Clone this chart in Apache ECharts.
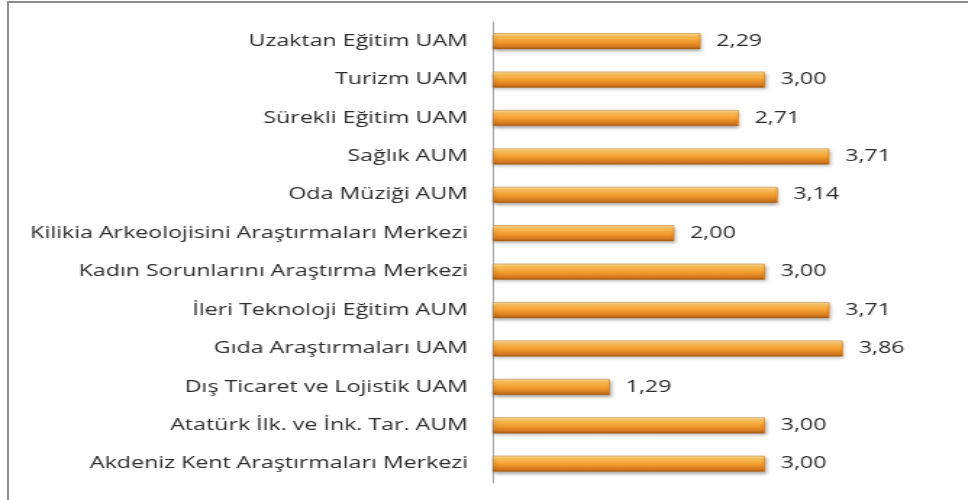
<!DOCTYPE html>
<html>
<head>
<meta charset="utf-8">
<script src="https://cdn.jsdelivr.net/npm/echarts@6/dist/echarts.min.js"></script>
<style>
  html, body { margin: 0; padding: 0; background: #fff; overflow: hidden; }
  /* the original picture is stretched horizontally (~1.45x) */
  #frame { position: absolute; left: 7px; top: 1px; width: 961px; height: 499px;
           border-left: 2px solid #8c8c8c; border-top: 2px solid #8c8c8c; }
  #chart { position: absolute; left: 0; top: 0; width: 668px; height: 500px;
           transform: scaleX(1.449); transform-origin: 0 0; }
</style>
</head>
<body>
<div id="frame"></div>
<div id="chart"></div>
<script>
// kategoriler (alttan üste)
let categories = [
  'Akdeniz Kent Araştırmaları Merkezi',
  'Atatürk İlk. ve İnk. Tar. AUM',
  'Dış Ticaret ve Lojistik UAM',
  'Gıda Araştırmaları UAM',
  'İleri Teknoloji Eğitim AUM',
  'Kadın Sorunlarını Araştırma Merkezi',
  'Kilikia Arkeolojisini Araştırmaları Merkezi',
  'Oda Müziği AUM',
  'Sağlık AUM',
  'Sürekli Eğitim UAM',
  'Turizm UAM',
  'Uzaktan Eğitim UAM'
];
let values = [3.00, 3.00, 1.29, 3.86, 3.71, 3.00, 2.00, 3.14, 3.71, 2.71, 3.00, 2.29];

let chart = echarts.init(document.getElementById('chart'));

let barColor = new echarts.graphic.LinearGradient(0, 0, 0, 1, [
  { offset: 0, color: '#fde3a8' },
  { offset: 0.2, color: '#fbbf55' },
  { offset: 0.55, color: '#f29a2c' },
  { offset: 0.85, color: '#d3781f' },
  { offset: 1, color: '#9c5514' }
]);

chart.setOption({
  animation: false,
  grid: { left: 340, right: 15, top: 22, bottom: 17 },
  xAxis: {
    type: 'value',
    min: 0,
    max: 5,
    show: false
  },
  yAxis: {
    type: 'category',
    data: categories,
    axisLine: { lineStyle: { color: '#a6a6a6' } },
    axisTick: { length: 6, lineStyle: { color: '#a6a6a6' } },
    axisLabel: {
      margin: 17,
      color: '#2b2b2b',
      fontFamily: 'Open Sans',
      fontSize: 16
    }
  },
  series: [{
    type: 'bar',
    data: values,
    barWidth: 16,
    itemStyle: {
      color: barColor,
      borderColor: '#b86a1c',
      borderWidth: 0.5,
      shadowColor: 'rgba(0,0,0,0.3)',
      shadowBlur: 3,
      shadowOffsetX: 1,
      shadowOffsetY: 2
    },
    label: {
      show: true,
      position: 'right',
      distance: 11,
      color: '#2b2b2b',
      fontFamily: 'Open Sans',
      fontSize: 16,
      formatter: function (p) { return p.value.toFixed(2).replace('.', ','); }
    }
  }]
});
</script>
</body>
</html>
